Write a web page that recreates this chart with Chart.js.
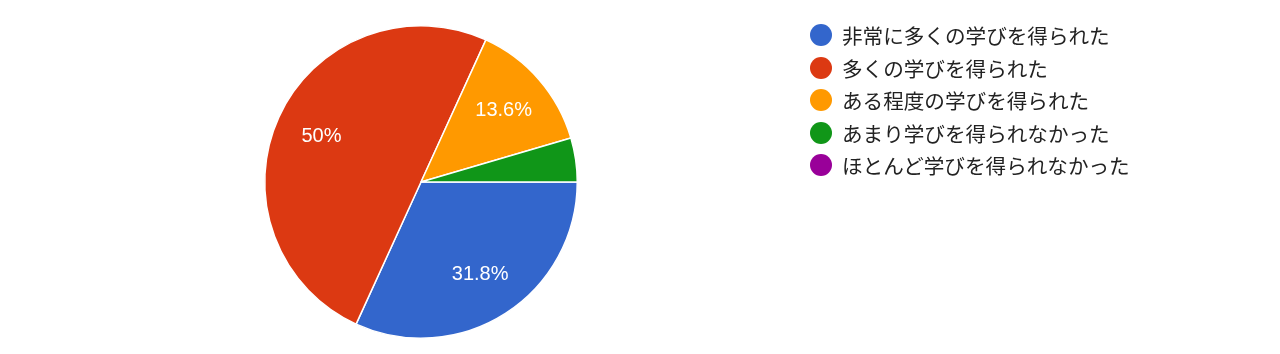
<!DOCTYPE html>
<html><head><meta charset="utf-8">
<script src="https://cdn.jsdelivr.net/npm/chart.js@4"></script>
<style>
html,body{margin:0;padding:0;background:#fff;}
#wrap{position:relative;width:1280px;height:354px;}
#c{position:absolute;left:0;top:0;}
#legend{position:absolute;left:810px;top:19px;font-family:"Noto Sans CJK JP","Noto Sans",sans-serif;font-size:20.6px;color:#222;}
.item{height:32.5px;display:flex;align-items:center;white-space:nowrap;}
.dot{width:22px;height:22px;border-radius:50%;margin-right:10px;flex:none;}
</style></head>
<body><div id="wrap"><canvas id="c" width="1280" height="354"></canvas><div id="legend"></div></div>
<script>
const categories = ["非常に多くの学びを得られた","多くの学びを得られた","ある程度の学びを得られた","あまり学びを得られなかった","ほとんど学びを得られなかった"];
const counts = [7, 11, 3, 1, 0];
const colors = ["#3366cc","#dc3912","#ff9900","#109618","#990099"];

const total = counts.reduce((a,b)=>a+b,0);
const leg = document.getElementById('legend');
categories.forEach((c,i)=>{
  const d=document.createElement('div');d.className='item';
  d.innerHTML='<span class="dot" style="background:'+colors[i]+'"></span><span>'+c+'</span>';
  leg.appendChild(d);
});

const labelPlugin = {
  id:'pctLabels',
  afterDatasetsDraw(chart){
    const ctx=chart.ctx;
    const meta=chart.getDatasetMeta(0);
    ctx.save();
    ctx.fillStyle='#fff';
    ctx.font='20px "Liberation Sans", Arial, sans-serif';
    ctx.textAlign='center';ctx.textBaseline='middle';
    meta.data.forEach((arc,i)=>{
      const v=counts[i];
      const frac=v/total;
      if(frac<0.08) return;
      const mid=(arc.startAngle+arc.endAngle)/2;
      const r=arc.outerRadius*0.7;
      const x=arc.x+Math.cos(mid)*r, y=arc.y+Math.sin(mid)*r;
      const p=Math.round(frac*1000)/10;
      ctx.fillText(p+'%',x,y);
    });
    ctx.restore();
  }
};

new Chart(document.getElementById('c'),{
  type:'pie',
  data:{labels:categories,datasets:[{data:counts,backgroundColor:colors,borderColor:'#fff',borderWidth:1.5}]},
  options:{
    responsive:false,animation:false,rotation:90,
    layout:{padding:{left:264,right:702,top:25,bottom:15}},
    plugins:{legend:{display:false},tooltip:{enabled:false}}
  },
  plugins:[labelPlugin]
});
</script></body></html>
